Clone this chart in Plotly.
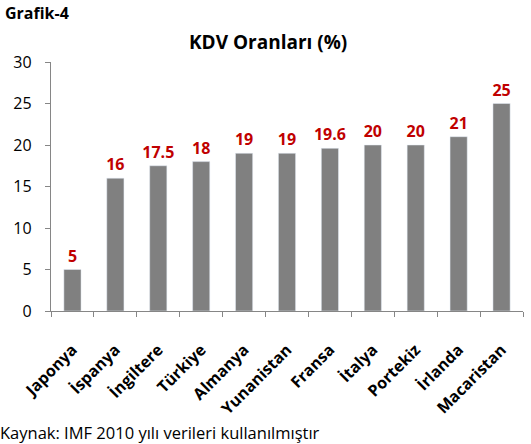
import plotly.graph_objects as go

ulkeler = ['Japonya', 'İspanya', 'İngiltere', 'Türkiye', 'Almanya', 'Yunanistan',
           'Fransa', 'İtalya', 'Portekiz', 'İrlanda', 'Macaristan']
kdv = [5, 16, 17.5, 18, 19, 19, 19.6, 20, 20, 21, 25]
etiketler = ['5', '16', '17.5', '18', '19', '19', '19.6', '20', '20', '21', '25']

fig = go.Figure(go.Bar(
    x=ulkeler, y=kdv, text=['<b>%s</b>' % t for t in etiketler], textposition='outside',
    textfont=dict(color='#C00000', size=16, family='Open Sans'),
    constraintext='none',
    marker=dict(color='#808080'), cliponaxis=False,
))

W, H = 531, 444
ml, mr, mt, mb = 51, 8, 62, 133
pw = W - ml - mr
ph = H - mt - mb

fig.update_layout(
    width=W, height=H,
    margin=dict(l=ml, r=mr, t=mt, b=mb),
    plot_bgcolor='white', paper_bgcolor='white',
    font=dict(family='Open Sans', color='black', size=15),
    bargap=0.6, showlegend=False,
    annotations=[
        dict(text='<b>KDV Oranları (%)</b>', x=(268 - ml) / pw, y=1 + (mt - 42) / ph,
             xref='paper', yref='paper', xanchor='center', yanchor='middle',
             showarrow=False, font=dict(size=19)),
        dict(text='<b>Grafik-4</b>', x=(3 - ml) / pw, y=1 + (mt - 13) / ph,
             xref='paper', yref='paper', xanchor='left', yanchor='middle',
             showarrow=False, font=dict(size=16)),
        dict(text='Kaynak: IMF 2010 yılı verileri kullanılmıştır', x=(-2 - ml) / pw,
             y=-(432 - (H - mb)) / ph, xref='paper', yref='paper',
             xanchor='left', yanchor='middle', showarrow=False, font=dict(size=16.5)),
    ],
)

fig.update_yaxes(range=[0, 30], dtick=5, showgrid=False, showline=True,
                 linecolor='#868686', linewidth=1.3, ticks='outside', ticklen=5,
                 tickcolor='#868686', tickfont=dict(size=16), zeroline=False,
                 ticklabelstandoff=10)
fig.update_xaxes(showline=True, linecolor='#868686', linewidth=1.3, ticks='outside',
                 ticklen=5, tickcolor='#868686', tickson='boundaries', tickangle=-45,
                 tickfont=dict(size=16), ticklabelstandoff=22,
                 tickvals=ulkeler, ticktext=['<b>%s</b>' % u for u in ulkeler])

fig.write_html("out.html", post_script="document.body.style.margin='0';",
               config={'displayModeBar': False})
